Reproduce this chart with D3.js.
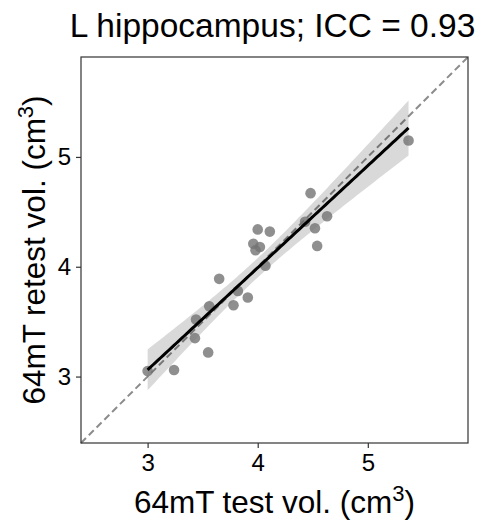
<!DOCTYPE html>
<html>
<head>
<meta charset="utf-8">
<script src="https://cdn.jsdelivr.net/npm/d3@7"></script>
<style>
  body { margin: 0; background: #fff; }
  text { font-family: "Liberation Sans", Arial, sans-serif; fill: #000; }
</style>
</head>
<body>
<svg width="484" height="520"></svg>
<script>
// test / retest volumes (cm^3)
var testVol   = [3.00, 3.24, 3.43, 3.44, 3.55, 3.56, 3.65, 3.78, 3.82, 3.91, 3.96,
                 3.98, 4.00, 4.02, 4.07, 4.11, 4.43, 4.48, 4.52, 4.54, 4.63, 5.37];
var retestVol = [3.05, 3.06, 3.35, 3.52, 3.22, 3.64, 3.89, 3.65, 3.78, 3.72, 4.21,
                 4.15, 4.34, 4.18, 4.01, 4.32, 4.41, 4.67, 4.35, 4.19, 4.46, 5.15];
var ticks = [3, 4, 5];
var domain = [2.395, 5.91];
var title = "L hippocampus; ICC = 0.93";
var tCrit = 2.086; // t(0.975, df = 20)

var svg = d3.select("svg");
var margin = {left: 81, top: 57, right: 16, bottom: 77};
var width = 484 - margin.left - margin.right;
var height = 520 - margin.top - margin.bottom;

var x = d3.scaleLinear().domain(domain).range([0, width]);
var y = d3.scaleLinear().domain(domain).range([height, 0]);

var g = svg.append("g")
    .attr("transform", "translate(" + margin.left + "," + margin.top + ")");

var pts = testVol.map(function(v, i) { return {x: v, y: retestVol[i]}; });

// least squares fit + 95% confidence band
var n = pts.length;
var mx = d3.mean(pts, function(d) { return d.x; });
var my = d3.mean(pts, function(d) { return d.y; });
var sxx = d3.sum(pts, function(d) { return (d.x - mx) * (d.x - mx); });
var sxy = d3.sum(pts, function(d) { return (d.x - mx) * (d.y - my); });
var slope = sxy / sxx;
var icpt = my - slope * mx;
var sse = d3.sum(pts, function(d) { var r = d.y - (icpt + slope * d.x); return r * r; });
var se = Math.sqrt(sse / (n - 2));
var xExt = d3.extent(testVol);
var grid = d3.range(0, 101).map(function(i) {
    var xv = xExt[0] + (xExt[1] - xExt[0]) * i / 100;
    var yv = icpt + slope * xv;
    var w = tCrit * se * Math.sqrt(1 / n + (xv - mx) * (xv - mx) / sxx);
    return {x: xv, y: yv, lo: yv - w, hi: yv + w};
});

// identity line
g.append("line")
    .attr("x1", x(domain[0])).attr("y1", y(domain[0]))
    .attr("x2", x(domain[1])).attr("y2", y(domain[1]))
    .attr("stroke", "#8c8c8c")
    .attr("stroke-width", 2)
    .attr("stroke-dasharray", "7,4");

// confidence band
g.append("path")
    .datum(grid)
    .attr("fill", "#000")
    .attr("fill-opacity", 0.15)
    .attr("d", d3.area()
        .x(function(d) { return x(d.x); })
        .y0(function(d) { return y(d.lo); })
        .y1(function(d) { return y(d.hi); }));

// scatter
g.append("g")
    .selectAll("circle")
    .data(pts)
    .enter()
    .append("circle")
    .attr("cx", function(d) { return x(d.x); })
    .attr("cy", function(d) { return y(d.y); })
    .attr("r", 5.3)
    .attr("fill", "#737373")
    .attr("fill-opacity", 0.8);

// fit line
g.append("path")
    .datum(grid)
    .attr("fill", "none")
    .attr("stroke", "#000")
    .attr("stroke-width", 3)
    .attr("d", d3.line()
        .x(function(d) { return x(d.x); })
        .y(function(d) { return y(d.y); }));

// axes
var fmt = d3.format("d");
var xAxis = g.append("g")
    .attr("transform", "translate(0," + height + ")")
    .call(d3.axisBottom(x).tickValues(ticks).tickFormat(fmt).tickSize(5).tickPadding(6));
var yAxis = g.append("g")
    .call(d3.axisLeft(y).tickValues(ticks).tickFormat(fmt).tickSize(5).tickPadding(5));
[xAxis, yAxis].forEach(function(a) {
    a.select(".domain").remove();
    a.selectAll("line").attr("stroke", "#333").attr("stroke-width", 1.2);
    a.selectAll("text").style("font-size", "24px")
        .style("font-family", "'Liberation Sans', Arial, sans-serif");
});

// frame
g.append("rect")
    .attr("width", width).attr("height", height)
    .attr("fill", "none")
    .attr("stroke", "#333")
    .attr("stroke-width", 1.2);

// labels
svg.append("text")
    .attr("x", margin.left + width / 2 - 2)
    .attr("y", 37)
    .attr("text-anchor", "middle")
    .style("font-size", "33.5px")
    .text(title);

var xl = svg.append("text")
    .attr("x", margin.left + width / 2)
    .attr("y", 513)
    .attr("text-anchor", "middle")
    .style("font-size", "31.5px");
xl.append("tspan").text("64mT test vol. (cm");
xl.append("tspan").attr("dy", -12).style("font-size", "22px").text("3");
xl.append("tspan").attr("dy", 12).text(")");

var yl = svg.append("text")
    .attr("transform", "translate(45," + (margin.top + height / 2) + ") rotate(-90)")
    .attr("text-anchor", "middle")
    .style("font-size", "31.5px");
yl.append("tspan").text("64mT retest vol. (cm");
yl.append("tspan").attr("dy", -12).style("font-size", "22px").text("3");
yl.append("tspan").attr("dy", 12).text(")");
</script>
</body>
</html>
